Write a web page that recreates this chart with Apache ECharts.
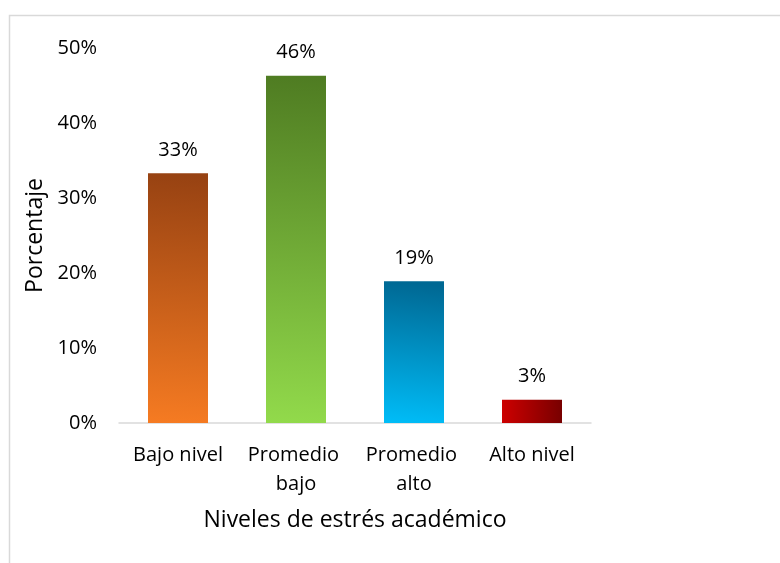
<!DOCTYPE html>
<html><head><meta charset="utf-8">
<script src="https://cdn.jsdelivr.net/npm/echarts@6/dist/echarts.min.js"></script>
<style>html,body{margin:0;padding:0;background:#fff}#c{width:780px;height:563px}</style>
</head><body><div id="c"></div>
<script>
const categories = ['Bajo nivel', 'Promedio bajo', 'Promedio alto', 'Alto nivel'];
const values = [0.333, 0.463, 0.189, 0.031];
const yTicks = [0, 0.1, 0.2, 0.3, 0.4, 0.5];
const xTitle = 'Niveles de estrés académico';
const yTitle = 'Porcentaje';

const FONT = '"Open Sans", sans-serif';
function grad(x, y, x2, y2, c0, c1) {
  return new echarts.graphic.LinearGradient(x, y, x2, y2, [{offset: 0, color: c0}, {offset: 1, color: c1}]);
}
const fills = [
  grad(0, 1, 0.25, 0, '#f67b22', '#974212'),
  grad(0, 1, 0.25, 0, '#92da4b', '#4f7c22'),
  grad(0, 1, 0.25, 0, '#00bdf8', '#006893'),
  grad(0, 0, 1, 0, '#cd0000', '#780000')
];

const chart = echarts.init(document.getElementById('c'), null, {renderer: 'canvas'});
chart.setOption({
  animation: false,
  backgroundColor: '#fff',
  graphic: [{type: 'rect', shape: {x: 9.5, y: 15.5, width: 900, height: 700}, style: {fill: 'none', stroke: '#d9d9d9', lineWidth: 1.5}, silent: true}],
  grid: {left: 119, right: 189, top: 48, bottom: 140},
  xAxis: {
    type: 'category', data: categories,
    name: xTitle, nameLocation: 'middle', nameGap: 86,
    nameTextStyle: {fontFamily: FONT, fontSize: 23, color: '#000'},
    axisLine: {lineStyle: {color: '#d9d9d9', width: 1.5}},
    axisTick: {show: false},
    axisLabel: {fontFamily: FONT, fontSize: 20, color: '#000', margin: 18, lineHeight: 29, width: 100, overflow: 'break', interval: 0}
  },
  yAxis: {
    type: 'value', min: yTicks[0], max: yTicks[yTicks.length - 1], interval: 0.1,
    name: yTitle, nameLocation: 'middle', nameGap: 72, nameRotate: 90,
    nameTextStyle: {fontFamily: FONT, fontSize: 23, color: '#000'},
    axisLine: {show: false}, axisTick: {show: false}, splitLine: {show: false},
    axisLabel: {fontFamily: FONT, fontSize: 20, color: '#000', margin: 22,
      formatter: v => Math.round(v * 100) + '%'}
  },
  series: [{
    type: 'bar', barWidth: 60,
    data: values.map((v, i) => ({value: v, itemStyle: {color: fills[i]}})),
    label: {show: true, position: 'top', distance: 13, fontFamily: FONT, fontSize: 20, color: '#000',
      formatter: p => Math.round(p.value * 100) + '%'}
  }]
});
</script></body></html>
